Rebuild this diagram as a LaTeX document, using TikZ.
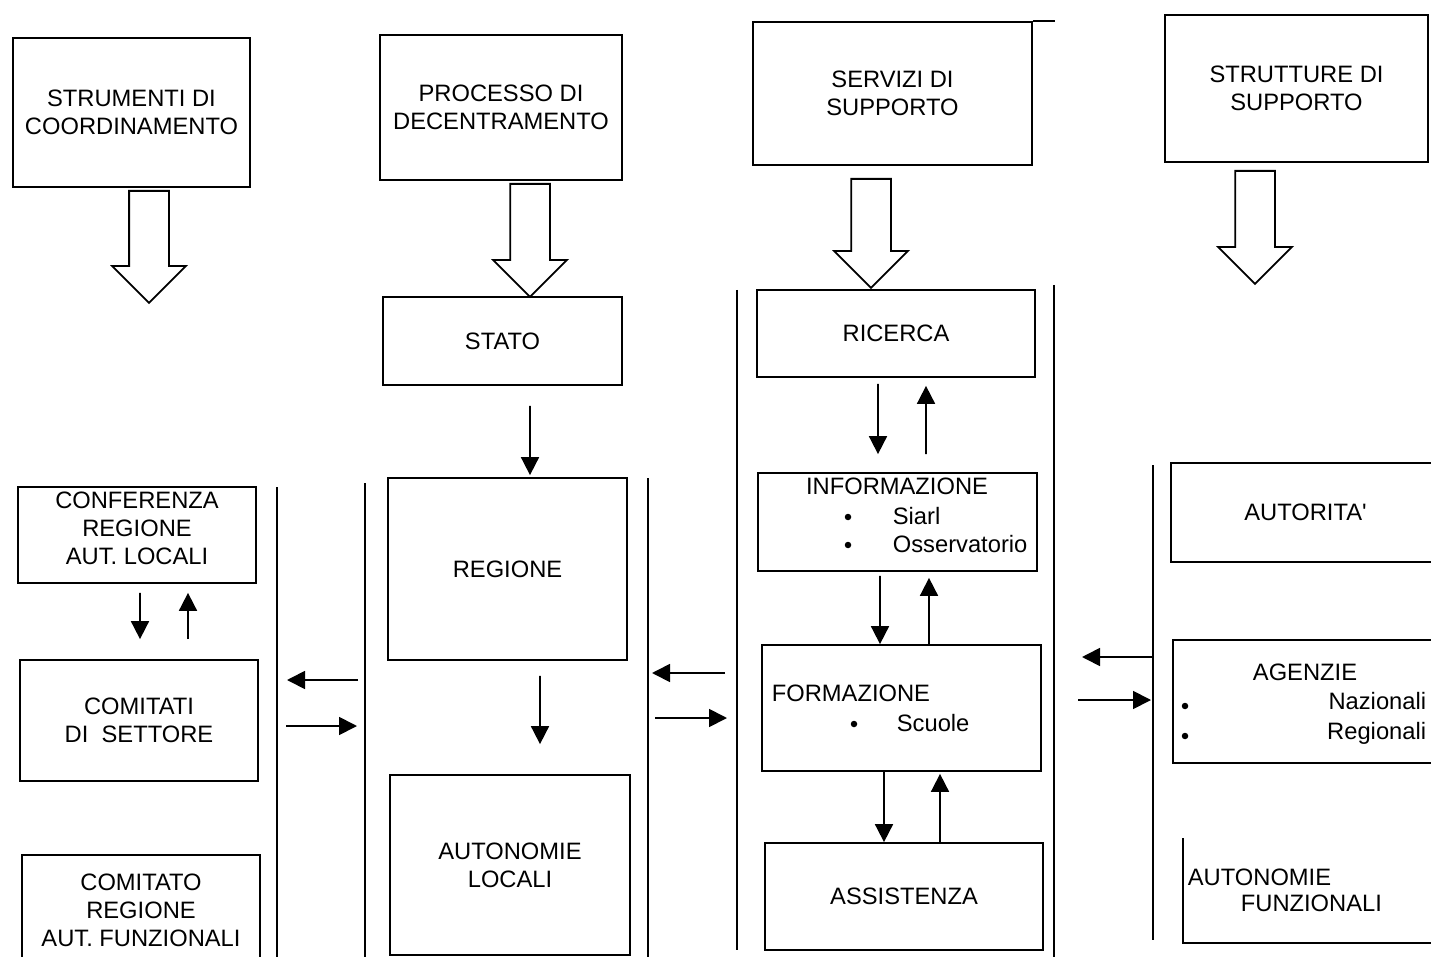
\documentclass[tikz,border=0pt]{standalone}
\usepackage{fontspec}
\setmainfont{Liberation Sans}
\usetikzlibrary{arrows.meta,shapes.arrows}

\begin{document}
\begin{tikzpicture}[x=0.2mm,y=-0.2mm,line width=1pt,
  >={Triangle[length=3.6mm,width=3.6mm]},
  main node/.style={draw,inner sep=0pt,align=center,font=\fontsize{13.5}{16}\selectfont},
  plain text/.style={inner sep=0pt,font=\fontsize{13.5}{16}\selectfont,text height=9.7pt,text depth=0pt},
  big arrow/.style={draw,single arrow,shape border rotate=270,inner sep=3.8mm,
    minimum width=14.4mm,single arrow head extend=3.4mm,anchor=tail},
  dot/.style={circle,fill,inner sep=0pt,minimum size=1.3mm}]
  \useasboundingbox (0,0) rectangle (1431,957);
  % heads of the four columns
  \node[main node,minimum width=47.4mm,minimum height=29.8mm] (strum) at (131.5,112.5) {STRUMENTI DI\\COORDINAMENTO};
  \node[main node,minimum width=48.4mm,minimum height=29mm]   (proc)  at (501,107.5)   {PROCESSO DI\\DECENTRAMENTO};
  \node[main node,minimum width=55.8mm,minimum height=28.6mm] (serv)  at (892.5,93.5)  {SERVIZI DI\\SUPPORTO};
  \node[main node,minimum width=52.6mm,minimum height=29.4mm] (strut) at (1296.5,88.5) {STRUTTURE DI\\SUPPORTO};
  \draw (serv.north east) -- ++(22,0);
  \node[big arrow,minimum height=22.4mm] (a1) at (149,190)  {};
  \node[big arrow,minimum height=22.6mm] (a2) at (530,183)  {};
  \node[big arrow,minimum height=21.8mm] (a3) at (871,178)  {};
  \node[big arrow,minimum height=22.6mm] (a4) at (1255,170) {};
  % first column
  \node[main node,minimum width=47.6mm,minimum height=19.2mm] (conf)     at (137,535)   {};
  \node[inner sep=0pt,align=center,font=\fontsize{13.5}{16}\selectfont] (conft) at (137,528) {CONFERENZA\\REGIONE\\AUT. LOCALI};
  \node[main node,minimum width=47.6mm,minimum height=24.2mm] (comitati) at (139,720.5) {COMITATI\\DI\ \ SETTORE};
  \node[main node,minimum width=47.6mm,minimum height=22mm]   (comitato) at (141,910)   {COMITATO\\REGIONE\\AUT. FUNZIONALI};
  % second column
  \node[main node,minimum width=47.8mm,minimum height=17.6mm] (stato)   at (502.5,341) {STATO};
  \node[main node,minimum width=47.8mm,minimum height=36.4mm] (regione) at (507.5,569) {REGIONE};
  \node[main node,minimum width=48mm,minimum height=36mm]     (autloc)  at (510,865)   {AUTONOMIE\\LOCALI};
  % third column
  \node[main node,minimum width=55.6mm,minimum height=17.4mm] (ricerca) at (896,333.5) {RICERCA};
  \node[main node,minimum width=55.8mm,minimum height=19.6mm] (inform)  at (897.5,522) {};
  \node[plain text]             (informt) at (897,486) {INFORMAZIONE};
  \node[dot]                    (d1)      at (848,517) {};
  \node[plain text,anchor=west] (siarl)   at (892,516) {Siarl};
  \node[dot]                    (d2)      at (848,545) {};
  \node[plain text,anchor=west] (osserv)  at (892,544) {Osservatorio};
  \node[main node,minimum width=55.8mm,minimum height=25.2mm] (form) at (901.5,708) {};
  \node[plain text,anchor=west] (formt)   at (771,693) {FORMAZIONE};
  \node[dot]                    (d3)      at (854,724) {};
  \node[plain text,anchor=west] (scuole)  at (896,723) {Scuole};
  \node[main node,minimum width=55.6mm,minimum height=21.4mm] (assist) at (904,896.5) {ASSISTENZA};
  % fourth column
  \node[main node,minimum width=53.8mm,minimum height=19.8mm] (autor) at (1305.5,512.5) {AUTORITA\textquotesingle};
  \node[main node,minimum width=53.4mm,minimum height=24.6mm] (agenz) at (1306.5,701.5) {};
  \node[plain text]             (agenzt)  at (1305,672)  {AGENZIE};
  \node[dot]                    (d4)      at (1185,706)  {};
  \node[plain text,anchor=east] (naz)     at (1427,701)  {Nazionali};
  \node[dot]                    (d5)      at (1185,736)  {};
  \node[plain text,anchor=east] (reg)     at (1427,731)  {Regionali};
  \node[plain text,anchor=west] (autfun1) at (1187,877)  {AUTONOMIE};
  \node[plain text,anchor=west] (autfun2) at (1240,903)  {FUNZIONALI};
  \draw (1183,838) -- (1183,943) -- (1431,943);
  % column rules
  \draw (277,487) -- (277,960);
  \draw (365,483) -- (365,960);
  \draw (648,478) -- (648,960);
  \draw (737,290) -- (737,950);
  \draw (1054,285) -- (1054,960);
  \draw (1153,465) -- (1153,940);
  % ends of the arrows between the columns
  \coordinate (h1s) at (358,680);  \coordinate (h1e) at (287,680);
  \coordinate (h2s) at (286,726);  \coordinate (h2e) at (357,726);
  \coordinate (h3s) at (725,673);  \coordinate (h3e) at (652,673);
  \coordinate (h4s) at (655,718);  \coordinate (h4e) at (727,718);
  \coordinate (h5s) at (1153,657); \coordinate (h5e) at (1082,657);
  \coordinate (h6s) at (1078,700); \coordinate (h6e) at (1151,700);
  \path
    (h1s) edge [->] (h1e)
    (h2s) edge [->] (h2e)
    (h3s) edge [->] (h3e)
    (h4s) edge [->] (h4e)
    (h5s) edge [->] (h5e)
    (h6s) edge [->] (h6e);
  \path
    ([xshift=0.6mm,yshift=-1.8mm]conf.south) edge [->] ([xshift=0.2mm,yshift=4mm]comitati.north)
    ([xshift=9.8mm,yshift=4mm]comitati.north) edge [->] ([xshift=10.2mm,yshift=-1.8mm]conf.south)
    ([xshift=5.5mm,yshift=-4mm]stato.south) edge [->] ([xshift=4.5mm,yshift=0.4mm]regione.north)
    ([xshift=6.5mm,yshift=-3mm]regione.south) edge [->] ([xshift=6mm,yshift=6mm]autloc.north)
    ([xshift=-3.6mm,yshift=-1.2mm]ricerca.south) edge [->] ([xshift=-3.9mm,yshift=3.6mm]inform.north)
    ([xshift=5.7mm,yshift=3.6mm]inform.north) edge [->] ([xshift=6mm,yshift=-1.6mm]ricerca.south)
    ([xshift=-3.5mm,yshift=-0.8mm]inform.south) edge [->] ([xshift=-4.3mm]form.north)
    ([xshift=5.5mm]form.north) edge [->] ([xshift=6.3mm,yshift=-1.2mm]inform.south)
    ([xshift=-3.5mm]form.south) edge [->] ([xshift=-4mm]assist.north)
    ([xshift=7.2mm]assist.north) edge [->] ([xshift=7.7mm,yshift=-0.4mm]form.south);
\end{tikzpicture}
\end{document}
